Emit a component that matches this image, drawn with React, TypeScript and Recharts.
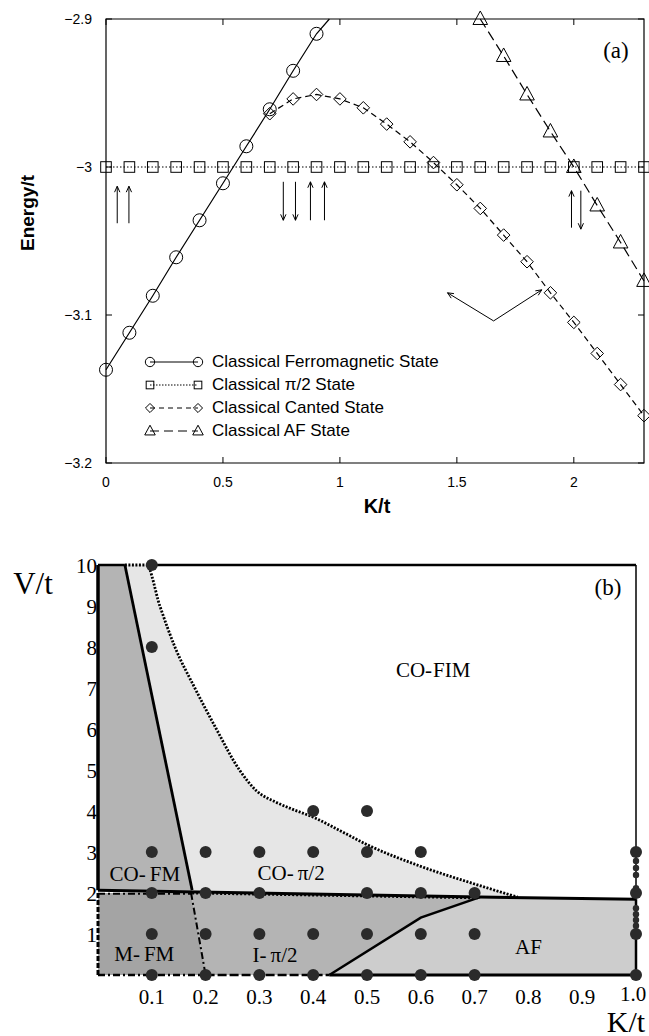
import React from "react";
import {
  Area,
  ComposedChart,
  Legend,
  Line,
  ReferenceArea,
  ReferenceLine,
  Scatter,
  XAxis,
  YAxis,
} from "recharts";

const SANS = '"Liberation Sans", Arial, Helvetica, sans-serif';
const SERIF = '"Liberation Serif", "Times New Roman", serif';

// ---------- panel (a): classical energies ----------
const FM_K = [0, 0.1, 0.2, 0.3, 0.4, 0.5, 0.6, 0.7, 0.8, 0.9];
const FM_E = [-3.137, -3.112, -3.087, -3.061, -3.036, -3.011, -2.986, -2.961, -2.935, -2.91];
const FM_EXIT = { k: 0.955, e: -2.9 }; // where the line leaves the frame

const PI2_K = [0, 0.1, 0.2, 0.3, 0.4, 0.5, 0.6, 0.7, 0.8, 0.9, 1, 1.1, 1.2, 1.3, 1.4, 1.5, 1.6, 1.7, 1.8, 1.9, 2, 2.1, 2.2, 2.3];
const PI2_E = [-3, -3, -3, -3, -3, -3, -3, -3, -3, -3, -3, -3, -3, -3, -3, -3, -3, -3, -3, -3, -3, -3, -3, -3];

const CANT_K = [0.7, 0.8, 0.9, 1, 1.1, 1.2, 1.3, 1.4, 1.5, 1.6, 1.7, 1.8, 1.9, 2, 2.1, 2.2, 2.3];
const CANT_E = [-2.964, -2.954, -2.951, -2.954, -2.96, -2.971, -2.983, -2.997, -3.012, -3.028, -3.046, -3.064, -3.085, -3.105, -3.126, -3.147, -3.168];

const AF_K = [1.6, 1.7, 1.8, 1.9, 2, 2.1, 2.2, 2.3];
const AF_E = [-2.9, -2.925, -2.951, -2.976, -3, -3.026, -3.051, -3.077];

const A_X_TICKS = [0, 0.5, 1, 1.5, 2];
const A_Y_TICKS = [-3.2, -3.1, -3, -2.9];

// spin arrows drawn under the pi/2 line: [k, tail E, head E]
const SPIN_ARROWS = [
  [0.048, -3.038, -3.013],
  [0.098, -3.038, -3.013],
  [0.758, -3.01, -3.036],
  [0.81, -3.01, -3.036],
  [0.874, -3.036, -3.01],
  [0.934, -3.036, -3.01],
  [1.99, -3.041, -3.016],
  [2.03, -3.016, -3.042],
];
// pointer arrows: [tail k, tail E, head k, head E]
const POINTERS = [
  [1.657, -3.104, 1.46, -3.085],
  [1.657, -3.104, 1.863, -3.083],
];

const LEGEND_A = [
  { name: "Classical Ferromagnetic State", marker: "circle", dash: undefined },
  { name: "Classical \u03c0/2 State", marker: "square", dash: "1.5 1.5" },
  { name: "Classical Canted State", marker: "diamond", dash: "5 4" },
  { name: "Classical AF State", marker: "triangle", dash: "9 5" },
];

// ---------- panel (b): phase diagram ----------
const B_X_TICKS = [0.1, 0.2, 0.3, 0.4, 0.5, 0.6, 0.7, 0.8, 0.9, 1.0];
const B_Y_TICKS = [1, 2, 3, 4, 5, 6, 7, 8, 9, 10];

const ROW_V = [10, 8, 4, 3, 2, 1, 0];
const ROW_K = [
  [0.1],
  [0.1],
  [0.4, 0.5],
  [0.1, 0.2, 0.3, 0.4, 0.5, 0.6, 1.0],
  [0.1, 0.2, 0.3, 0.5, 0.6, 0.7, 1.0],
  [0.1, 0.2, 0.3, 0.4, 0.5, 0.6, 0.7, 1.0],
  [0.1, 0.2, 0.3, 0.4, 0.5, 0.6, 0.7, 1.0],
];
const EDGE_DOT_V = [2.78, 2.61, 2.44, 2.12, 1.63, 1.48, 1.34, 1.2]; // small points on K/t = 1

// boundaries as [K, V] pairs
const FIM_LINE = [[0.05, 10], [0.09, 10], [0.115, 9], [0.143, 8], [0.18, 7], [0.22, 6], [0.263, 5], [0.294, 4.5], [0.33, 4.22], [0.36, 4.05], [0.4, 3.85], [0.45, 3.52], [0.5, 3.18], [0.6, 2.65], [0.7, 2.22], [0.78, 1.9]];
const FM_PI2_LINE = [[0.05, 10], [0.175, 2.07]];
const V2_LINE = [[0, 2.07], [0.71, 1.9], [1, 1.85]];
const AF_LINE = [[0.43, 0], [0.6, 1.4], [0.71, 1.9]];
const MFM_RIGHT = [[0.173, 2.0], [0.2, 0]];
const MFM_TOP = [[0, 1.98], [0.173, 1.98]];
const IPI2_TOP = [[0.175, 1.99], [0.71, 1.87]];
const LEFT_EDGE = [[0, 10], [0, 2.07]];
const MFM_LEFT = [[0, 2.0], [0, 0]];
const MFM_BOTTOM = [[0, 0], [0.2, 0]];
const IPI2_BOTTOM = [[0.2, 0], [0.43, 0]];
const AF_BOTTOM = [[0.43, 0], [1, 0]];
const AF_RIGHT = [[1, 1.85], [1, 0]];
const RIGHT_EDGE = [[1, 10], [1, 1.85]];
const TOP_EDGE_L = [[0, 10], [0.05, 10]];
const TOP_EDGE_R = [[0.1, 10], [1, 10]];

// regions as [K, V low, V high]
const CO_FM_REGION = [[0, 2.07, 10], [0.05, 2.07, 10], [0.175, 2.07, 2.07]];
const M_FM_REGION = [[0, 0, 2.0], [0.173, 0, 2.0], [0.2, 0, 0]];
const I_PI2_REGION = [[0.173, 2.0, 2.0], [0.2, 0, 2.0], [0.43, 0, 1.96], [0.6, 1.4, 1.92], [0.71, 1.9, 1.9]];
const AF_REGION = [[0.43, 0, 0], [0.6, 0, 1.4], [0.71, 0, 1.9], [1, 0, 1.85]];

const REGION_NAMES = ["CO-FIM", "CO-\u03c0/2", "CO-FM", "M-FM", "I-\u03c0/2", "AF"];
const REGION_K = [0.623, 0.359, 0.087, 0.086, 0.329, 0.8];
const REGION_V = [7.45, 2.49, 2.46, 0.51, 0.49, 0.69];

// ---------- helpers ----------
const A_PLOT_W = 538;
const A_PLOT_H = 444;

const zipKE = (ks: number[], es: number[]) => ks.map((k, i) => ({ k, e: es[i] }));
const pairs = (ps: number[][]) => ps.map(([k, v]) => ({ k, v }));
const ranges = (ps: number[][]) => ps.map(([k, lo, hi]) => ({ k, r: [lo, hi] }));
const minus = (v: number) => String(v).replace("-", "\u2212");

const fmRows = [...zipKE(FM_K, FM_E), { ...FM_EXIT, exit: true }];
const pi2Rows = zipKE(PI2_K, PI2_E);
const cantRows = zipKE(CANT_K, CANT_E);
const afRows = zipKE(AF_K, AF_E);

const dotRows = ROW_V.flatMap((v, i) => ROW_K[i].map((k) => ({ k, v })));
const edgeDotRows = EDGE_DOT_V.map((v) => ({ k: 1.0, v }));
const regionRows = REGION_NAMES.map((name, i) => ({ k: REGION_K[i], v: REGION_V[i], name }));

function Marker({ kind, cx, cy, s = 1 }: { kind: string; cx: number; cy: number; s?: number }) {
  const st = { fill: "none", stroke: "#000", strokeWidth: 1 };
  if (kind === "circle") return <circle cx={cx} cy={cy} r={6.5 * s} {...st} />;
  if (kind === "square") {
    const h = 5.3 * s;
    return <rect x={cx - h} y={cy - h} width={2 * h} height={2 * h} {...st} />;
  }
  if (kind === "diamond") {
    const d = 6.3 * s;
    return <polygon points={`${cx},${cy - d} ${cx + d},${cy} ${cx},${cy + d} ${cx - d},${cy}`} {...st} />;
  }
  const a = 7.3 * s;
  return <polygon points={`${cx},${cy - a * 1.1} ${cx + a},${cy + a * 0.75} ${cx - a},${cy + a * 0.75}`} {...st} />;
}

const dotFor = (kind: string) => (p: any) => {
  const key = `${kind}-${p.index}`;
  if (p.payload?.exit || p.cx == null) return <g key={key} />;
  return <Marker key={key} kind={kind} cx={p.cx} cy={p.cy} />;
};

function arrowShape(p: any) {
  const { x1, y1, x2, y2 } = p;
  const a = Math.atan2(y2 - y1, x2 - x1);
  const L = 6.5;
  const w = 0.42;
  const hx1 = x2 - L * Math.cos(a - w);
  const hy1 = y2 - L * Math.sin(a - w);
  const hx2 = x2 - L * Math.cos(a + w);
  const hy2 = y2 - L * Math.sin(a + w);
  return (
    <g>
      <line x1={x1} y1={y1} x2={x2} y2={y2} stroke="#000" strokeWidth={1} />
      <polyline points={`${hx1},${hy1} ${x2},${y2} ${hx2},${hy2}`} fill="none" stroke="#000" strokeWidth={1} />
    </g>
  );
}

function TickABottom(p: any) {
  const { x, y, payload } = p;
  return (
    <g>
      <line x1={x} x2={x} y1={y} y2={y - 6} stroke="#000" />
      <line x1={x} x2={x} y1={y - A_PLOT_H} y2={y - A_PLOT_H + 6} stroke="#000" />
      <text x={x} y={y + 24} textAnchor="middle" fontFamily={SANS} fontSize={14} fill="#000">
        {minus(payload.value)}
      </text>
    </g>
  );
}

function TickALeft(p: any) {
  const { x, y, payload } = p;
  return (
    <g>
      <line x1={x} x2={x + 6} y1={y} y2={y} stroke="#000" />
      <line x1={x + A_PLOT_W} x2={x + A_PLOT_W - 6} y1={y} y2={y} stroke="#000" />
      <text x={x - 14} y={y + 5} textAnchor="end" fontFamily={SANS} fontSize={14} fill="#000">
        {minus(payload.value)}
      </text>
    </g>
  );
}

function TickBBottom(p: any) {
  const { x, y, payload } = p;
  const last = payload.value === 1;
  return (
    <text x={last ? x - 3 : x} y={y + (last ? 26 : 29)} textAnchor="middle" fontFamily={SERIF} fontSize={21} fill="#000">
      {Number(payload.value).toFixed(1)}
    </text>
  );
}

function TickBLeft(p: any) {
  const { x, y, payload } = p;
  return (
    <text x={x - 1} y={y + 8} textAnchor="end" fontFamily={SERIF} fontSize={21} fill="#000">
      {payload.value}
    </text>
  );
}

const renderLegendA = () => (
  <div style={{ fontFamily: SANS, fontSize: 17, color: "#000" }}>
    {LEGEND_A.map((s) => (
      <div key={s.name} style={{ display: "flex", alignItems: "center", height: 23 }}>
        <svg width={64} height={22} style={{ display: "block" }}>
          <line x1={8} x2={56} y1={11} y2={11} stroke="#000" strokeWidth={1} strokeDasharray={s.dash} />
          <Marker kind={s.marker} cx={8} cy={11} s={0.72} />
          <Marker kind={s.marker} cx={56} cy={11} s={0.72} />
        </svg>
        <span style={{ marginLeft: 6, lineHeight: "22px", whiteSpace: "nowrap" }}>{s.name}</span>
      </div>
    ))}
  </div>
);

const regionLabel = (p: any) => {
  const { cx, cy, payload } = p;
  const name = String(payload.name);
  const parts = name.split("-");
  const gap = name === "CO-FIM" ? 1 : 4;
  return (
    <text x={cx} y={cy} textAnchor="middle" dominantBaseline="central" fontFamily={SERIF} fontSize={21} fill="#000">
      {parts.length === 2 ? (
        <>
          <tspan>{parts[0]}-</tspan>
          <tspan dx={gap}>{parts[1]}</tspan>
        </>
      ) : (
        name
      )}
    </text>
  );
};

const panelLabel = (text: string) => (p: any) => (
  <text x={p.cx} y={p.cy} textAnchor="middle" dominantBaseline="central" fontFamily={SERIF} fontSize={23} fill="#000">
    {text}
  </text>
);

const simDot = (r: number) => (p: any) => <circle cx={p.cx} cy={p.cy} r={r} fill="#2b2b2b" />;

function EnergyPanel() {
  return (
    <ComposedChart width={649} height={520} margin={{ top: 19, right: 5, bottom: 0, left: 0 }}>
      <XAxis
        type="number"
        dataKey="k"
        domain={[0, 2.3]}
        ticks={A_X_TICKS}
        interval={0}
        axisLine={false}
        tickLine={false}
        tickSize={0}
        tickMargin={0}
        height={57}
        tick={(p: any) => <TickABottom {...p} />}
        label={{
          content: (p: any) => (
            <text
              x={(p.viewBox?.x ?? 106) + 271}
              y={(p.viewBox?.y ?? 463) + 43}
              textAnchor="middle"
              dominantBaseline="central"
              fontFamily={SANS}
              fontWeight="bold"
              fontSize={20}
            >
              K/t
            </text>
          ),
        }}
      />
      <YAxis
        type="number"
        dataKey="e"
        domain={[-3.2, -2.9]}
        ticks={A_Y_TICKS}
        interval={0}
        axisLine={false}
        tickLine={false}
        tickSize={0}
        tickMargin={0}
        width={106}
        tick={(p: any) => <TickALeft {...p} />}
        label={{
          content: (p: any) => {
            const x = (p.viewBox?.x ?? 0) + 27;
            const y = (p.viewBox?.y ?? 19) + 194;
            return (
              <text
                x={x}
                y={y}
                transform={`rotate(-90 ${x} ${y})`}
                textAnchor="middle"
                dominantBaseline="central"
                fontFamily={SANS}
                fontWeight="bold"
                fontSize={19}
              >
                Energy/t
              </text>
            );
          },
        }}
      />
      <ReferenceArea x1={0} x2={2.3} y1={-3.2} y2={-2.9} fill="none" stroke="#000" strokeWidth={1.2} ifOverflow="visible" />
      <Line data={fmRows} dataKey="e" name="Classical Ferromagnetic State" stroke="#000" strokeWidth={1.2} dot={dotFor("circle")} isAnimationActive={false} />
      <Line data={pi2Rows} dataKey="e" name="Classical π/2 State" stroke="#000" strokeWidth={1.2} strokeDasharray="1.5 2" dot={dotFor("square")} isAnimationActive={false} />
      <Line data={cantRows} dataKey="e" name="Classical Canted State" stroke="#000" strokeWidth={1.2} strokeDasharray="6 4" dot={dotFor("diamond")} isAnimationActive={false} />
      <Line data={afRows} dataKey="e" name="Classical AF State" stroke="#000" strokeWidth={1.2} strokeDasharray="10 5" dot={dotFor("triangle")} isAnimationActive={false} />
      {SPIN_ARROWS.map(([k, from, to], i) => (
        <ReferenceLine key={`s${i}`} segment={[{ x: k, y: from }, { x: k, y: to }]} stroke="#000" shape={arrowShape} />
      ))}
      {POINTERS.map(([k1, e1, k2, e2], i) => (
        <ReferenceLine key={`p${i}`} segment={[{ x: k1, y: e1 }, { x: k2, y: e2 }]} stroke="#000" shape={arrowShape} />
      ))}
      <Scatter data={[{ k: 2.18, e: -2.921 }]} shape={panelLabel("(a)")} isAnimationActive={false} />
      <Legend
        content={renderLegendA}
        layout="vertical"
        align="center"
        verticalAlign="middle"
        wrapperStyle={{ left: 142, top: 350, width: 340 }}
      />
    </ComposedChart>
  );
}

function PhasePanel() {
  const bLine = (ps: number[][], width: number, dash?: string, smooth?: boolean) => (
    <Line
      data={pairs(ps)}
      dataKey="v"
      type={smooth ? "monotone" : "linear"}
      stroke="#000"
      strokeWidth={width}
      strokeDasharray={dash}
      dot={false}
      activeDot={false}
      legendType="none"
      isAnimationActive={false}
    />
  );
  const region = (ps: number[][], fill: string) => (
    <Area data={ranges(ps)} dataKey="r" type="linear" fill={fill} fillOpacity={1} stroke="none" activeDot={false} isAnimationActive={false} />
  );
  return (
    <ComposedChart width={649} height={516} margin={{ top: 45, right: 13, bottom: 0, left: 0 }}>
      <XAxis
        type="number"
        dataKey="k"
        domain={[0, 1]}
        ticks={B_X_TICKS}
        interval={0}
        axisLine={false}
        tickLine={false}
        tickSize={0}
        tickMargin={0}
        height={61}
        tick={(p: any) => <TickBBottom {...p} />}
        label={{
          content: (p: any) => (
            <text
              x={(p.viewBox?.x ?? 98) + 528}
              y={(p.viewBox?.y ?? 455) + 46}
              textAnchor="middle"
              dominantBaseline="central"
              fontFamily={SERIF}
              fontSize={30}
            >
              K/t
            </text>
          ),
        }}
      />
      <YAxis
        type="number"
        dataKey="v"
        domain={[0, 10]}
        ticks={B_Y_TICKS}
        interval={0}
        axisLine={false}
        tickLine={false}
        tickSize={0}
        tickMargin={0}
        width={98}
        tick={(p: any) => <TickBLeft {...p} />}
        label={{
          content: (p: any) => (
            <text
              x={(p.viewBox?.x ?? 0) + 33}
              y={(p.viewBox?.y ?? 45) + 18}
              textAnchor="middle"
              dominantBaseline="central"
              fontFamily={SERIF}
              fontSize={31}
            >
              V/t
            </text>
          ),
        }}
      />
      <Area data={pairs(FIM_LINE)} dataKey="v" type="monotone" baseValue={0} fill="#e6e6e6" fillOpacity={1} stroke="none" activeDot={false} isAnimationActive={false} />
      {region(CO_FM_REGION, "#b4b4b4")}
      {region(M_FM_REGION, "#a4a4a4")}
      {region(I_PI2_REGION, "#b4b4b4")}
      {region(AF_REGION, "#cdcdcd")}

      {bLine(TOP_EDGE_L, 2.5)}
      {bLine(TOP_EDGE_R, 2.5)}
      {bLine(RIGHT_EDGE, 1.5)}
      {bLine(LEFT_EDGE, 3.5)}
      {bLine(MFM_LEFT, 3, "5 2")}
      {bLine(MFM_BOTTOM, 2.5, "7 3 2 3")}
      {bLine(IPI2_BOTTOM, 2.5, "9 3")}
      {bLine(AF_BOTTOM, 3)}
      {bLine(AF_RIGHT, 2.5)}
      {bLine(MFM_TOP, 2, "7 3 2 3")}
      {bLine(IPI2_TOP, 2, "2 2")}
      {bLine(MFM_RIGHT, 2, "7 3 2 3")}
      {bLine(FM_PI2_LINE, 2.8)}
      {bLine(V2_LINE, 3)}
      {bLine(AF_LINE, 2.5)}
      {bLine(FIM_LINE, 2.8, "2 1.5", true)}

      <Scatter data={dotRows} shape={simDot(6)} isAnimationActive={false} />
      <Scatter data={edgeDotRows} shape={simDot(3.2)} isAnimationActive={false} />
      <Scatter data={regionRows} shape={regionLabel} isAnimationActive={false} />
      <Scatter data={[{ k: 0.948, v: 9.46 }]} shape={panelLabel("(b)")} isAnimationActive={false} />
    </ComposedChart>
  );
}

export default function App() {
  return (
    <div style={{ position: "absolute", left: 0, top: 0, width: 649, height: 1036, background: "#fff" }}>
      <EnergyPanel />
      <PhasePanel />
    </div>
  );
}
